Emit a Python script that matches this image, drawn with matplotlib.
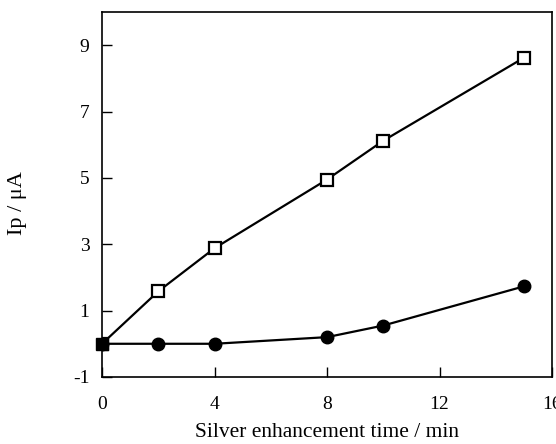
import matplotlib
matplotlib.use("Agg")
import matplotlib.pyplot as plt

# data
time_min = [0, 2, 4, 8, 10, 15]
ip_square = [0.0, 1.58, 2.88, 4.95, 6.12, 8.62]
ip_circle = [0.0, 0.0, 0.0, 0.2, 0.55, 1.73]
x_ticks = [0, 4, 8, 12, 16]
y_ticks = [-1, 1, 3, 5, 7, 9]

plt.rcParams['font.family'] = ['Liberation Serif', 'DejaVu Serif']
plt.rcParams['axes.unicode_minus'] = False

fig = plt.figure(figsize=(5.56, 4.44), dpi=100)
ax = fig.add_axes([0.1835, 0.151, 0.8093, 0.822])

ax.plot(time_min, ip_circle, color="black", lw=1.6, marker="o", ms=9,
        mfc="black", mec="black")
ax.plot(time_min, ip_square, color="black", lw=1.6, marker="s", ms=8.5,
        mfc="white", mec="black", mew=1.6)
# filled square at origin
ax.plot(time_min[0], ip_square[0], marker="s", ms=8.5, color="black", clip_on=False)

ax.set_xlim(0, 16)
ax.set_ylim(-1, 10)
ax.set_xticks(x_ticks)
ax.set_yticks(y_ticks)
ax.tick_params(direction="in", length=7, width=1, labelsize=14)
ax.tick_params(axis="x", pad=14)
ax.tick_params(axis="y", pad=9)
for s in ax.spines.values():
    s.set_linewidth(1.2)

ax.set_xlabel("Silver enhancement time / min", fontsize=15.5)
ax.set_ylabel("Ip / μA", fontsize=16)
ax.xaxis.set_label_coords(0.5, -0.125)
ax.yaxis.set_label_coords(-0.167, 0.477)

fig.savefig("out.png", dpi=100)
